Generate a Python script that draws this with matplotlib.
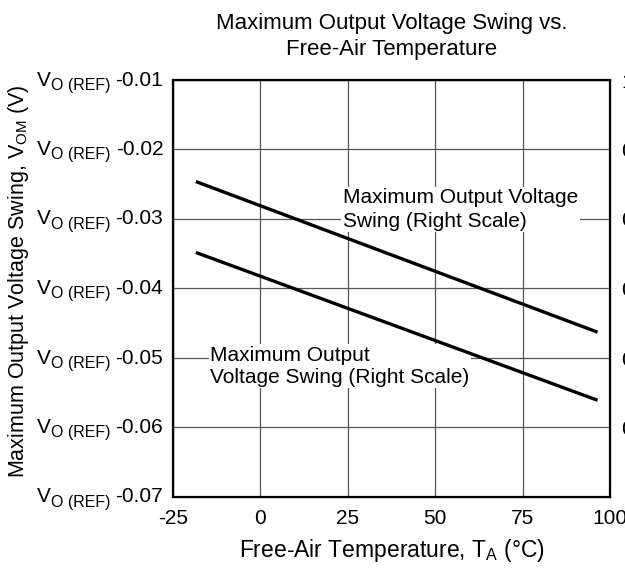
import matplotlib
matplotlib.use("Agg")
import matplotlib.pyplot as plt

plt.rcParams['font.family'] = ['Liberation Sans', 'DejaVu Sans']
plt.rcParams['mathtext.fontset'] = 'custom'
plt.rcParams['mathtext.rm'] = 'Liberation Sans'
plt.rcParams['mathtext.it'] = 'Liberation Sans:italic'

# data
temp = [-18, 96]
swing_upper = [-0.0247, -0.0462]
swing_lower = [-0.0349, -0.0560]

x_ticks = [-25, 0, 25, 50, 75, 100]
y_ticks = [-0.07, -0.06, -0.05, -0.04, -0.03, -0.02, -0.01]
y_prefix = "V"
y_sub = "O (REF)"
right_ticks = [-0.06, -0.05, -0.04, -0.03, -0.02, -0.01]
right_labels = ["0.5", "0.6", "0.7", "0.8", "0.9", "1"]

fig = plt.figure(figsize=(6.25, 5.68), dpi=100)
ax = fig.add_axes([173/625, 71/568, 437/625, 417/568])

ax.plot(temp, swing_upper, color='black', lw=2.4, zorder=3)
ax.plot(temp, swing_lower, color='black', lw=2.4, zorder=3)

ax.set_xlim(-25, 100)
ax.set_ylim(-0.07, -0.01)
ax.set_xticks(x_ticks)
ax.set_xticklabels([str(t) for t in x_ticks])
ax.set_yticks(y_ticks)
ax.set_yticklabels([])
ax.tick_params(length=0, labelsize=15)
ax.tick_params(axis='x', pad=9)
ax.grid(True, color='#555555', lw=0.9)
for s in ax.spines.values():
    s.set_linewidth(1.6)

# y tick labels: "V" + subscript + value
for v in y_ticks:
    num = ax.annotate(f"{v:.2f}", xy=(0, v), xycoords=ax.get_yaxis_transform(),
                      xytext=(-7, 0), textcoords='offset points',
                      ha='right', va='center', fontsize=15)
    sub = ax.annotate(y_sub, xy=(0, 0), xycoords=num, xytext=(-3.5, -2.5),
                      textcoords='offset points', ha='right', va='bottom', fontsize=11.5)
    ax.annotate(y_prefix, xy=(0, 0), xycoords=sub, xytext=(-0.3, 2.5),
                textcoords='offset points', ha='right', va='bottom', fontsize=15)

ax2 = ax.twinx()
ax2.set_ylim(-0.07, -0.01)
ax2.set_yticks(right_ticks)
ax2.set_yticklabels(right_labels)
ax2.tick_params(length=0, labelsize=15, pad=8)

ax.text(23.6, -0.0286, "Maximum Output Voltage\nSwing (Right Scale)", fontsize=15,
        va='center', ha='left', linespacing=1.3, zorder=2,
        bbox=dict(facecolor='white', edgecolor='none', pad=1))
ax.text(-14.4, -0.0512, "Maximum Output\nVoltage Swing (Right Scale)", fontsize=15,
        va='center', ha='left', linespacing=1.2, zorder=2,
        bbox=dict(facecolor='white', edgecolor='none', pad=1))

ax.set_xlabel(r"Free-Air Temperature, T$_{\mathrm{A}}$ (°C)", fontsize=16.5, labelpad=6)
ax.set_ylabel(r"Maximum Output Voltage Swing, V$_{\mathrm{OM}}$ (V)", fontsize=15.5)
ax.yaxis.set_label_coords(-0.325, 0.517)
ax.set_title("Maximum Output Voltage Swing vs.\nFree-Air Temperature", fontsize=16,
             pad=18, linespacing=1.3)

fig.savefig("out.png", dpi=100)
